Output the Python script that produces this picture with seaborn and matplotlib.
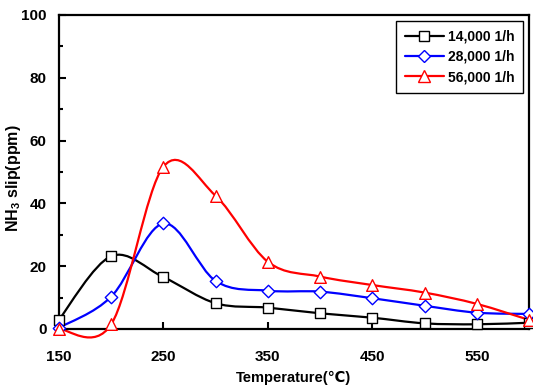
import matplotlib
matplotlib.use("Agg")
import numpy as np
import pandas as pd
import seaborn as sns
import matplotlib.pyplot as plt
from matplotlib.path import Path
from matplotlib.patches import PathPatch
from matplotlib.lines import Line2D
from matplotlib.ticker import MultipleLocator

# ---- data ----
temperature = [150, 200, 250, 300, 350, 400, 450, 500, 550, 600]
slip_14000 = [3.0, 23.2, 16.5, 8.2, 6.8, 5.0, 3.6, 1.8, 1.5, 2.0]
slip_28000 = [0.4, 10.3, 33.6, 15.3, 12.2, 11.9, 9.8, 7.4, 5.2, 4.8]
slip_56000 = [0.0, 1.5, 51.7, 42.4, 21.4, 16.7, 14.0, 11.6, 8.0, 2.9]
series_labels = ["14,000 1/h", "28,000 1/h", "56,000 1/h"]
series_colors = ["#000000", "#0000FF", "#FF0000"]
series_markers = ["s", "D", "^"]
x_ticks = [150, 250, 350, 450, 550]
y_ticks = [0, 20, 40, 60, 80, 100]

sns.set_theme(style="white")
plt.rcParams["font.family"] = ["Liberation Sans", "DejaVu Sans"]
plt.rcParams["font.weight"] = "bold"
plt.rcParams["text.color"] = "black"
plt.rcParams["axes.labelcolor"] = "black"
plt.rcParams["xtick.color"] = "black"
plt.rcParams["ytick.color"] = "black"
plt.rcParams["mathtext.fontset"] = "custom"
plt.rcParams["mathtext.rm"] = "Liberation Sans:bold"
plt.rcParams["mathtext.bf"] = "Liberation Sans:bold"
plt.rcParams["mathtext.default"] = "bf"

fig = plt.figure(figsize=(5.33, 3.86), dpi=100)
ax = fig.add_axes([59 / 533, (386 - 329) / 386, 470 / 533, 314 / 386])

df = pd.DataFrame({
    "Temperature": temperature * 3,
    "slip": slip_14000 + slip_28000 + slip_56000,
    "series": sum([[s] * len(temperature) for s in series_labels], []),
})


def smooth_path(xs, ys):
    """Excel-like smoothed line: cubic Bezier segments (Catmull-Rom control points)."""
    pts = np.column_stack([xs, ys]).astype(float)
    n = len(pts)
    verts = [pts[0]]
    codes = [Path.MOVETO]
    for i in range(n - 1):
        p0 = pts[i - 1] if i > 0 else pts[i]
        p1 = pts[i]
        p2 = pts[i + 1]
        p3 = pts[i + 2] if i + 2 < n else pts[i + 1]
        c1 = p1 + (p2 - p0) / 6.0
        c2 = p2 - (p3 - p1) / 6.0
        verts += [c1, c2, p2]
        codes += [Path.CURVE4] * 3
    return Path(verts, codes)


sizes = {"s": 56, "D": 40, "^": 70}
handles = []
for lab, col, mk in zip(series_labels, series_colors, series_markers):
    sub = df[df["series"] == lab]
    patch = PathPatch(smooth_path(sub["Temperature"].values, sub["slip"].values),
                      facecolor="none", edgecolor=col, lw=1.6, zorder=2, clip_on=False)
    ax.add_patch(patch)
    sns.scatterplot(data=sub, x="Temperature", y="slip", marker=mk, s=sizes[mk],
                    color="white", edgecolor=col, linewidth=1.0, zorder=3,
                    clip_on=False, legend=False, ax=ax)
    handles.append(Line2D([0], [0], color=col, lw=1.6, marker=mk,
                          markersize=np.sqrt(sizes[mk]), markerfacecolor="white",
                          markeredgecolor=col, markeredgewidth=1.0))

ax.set_xlim(150, 600)
ax.set_ylim(0, 100)
ax.set_xticks(x_ticks)
ax.set_yticks(y_ticks)
ax.yaxis.set_minor_locator(MultipleLocator(10))
ax.tick_params(axis="both", which="major", direction="in", length=5, width=1.5,
               labelsize=11, left=True, bottom=True, colors="black")
ax.tick_params(axis="x", which="major", pad=15)
ax.tick_params(axis="y", which="major", pad=9)
ax.tick_params(axis="y", which="minor", direction="in", length=3, width=1.5, left=True)
for lbl in ax.get_xticklabels() + ax.get_yticklabels():
    lbl.set_fontweight("bold")
    lbl.set_color("black")

for sp in ax.spines.values():
    sp.set_color("black")
    sp.set_linewidth(1.6)

ax.set_xlabel("Temperature(\u2103)", fontsize=10.5, fontweight="bold", color="black")
ax.set_ylabel("NH$_3$ slip(ppm)", fontsize=11.5, fontweight="bold", color="black")
ax.xaxis.set_label_coords(0.5, -(371 - 329) / 314)
ax.yaxis.set_label_coords((23 - 59) / 470, 0.48)

leg = ax.legend(handles, series_labels, loc="upper right", fontsize=10,
                frameon=True, fancybox=False, edgecolor="black", framealpha=1,
                handlelength=2.8, handletextpad=0.3, borderpad=0.65,
                labelspacing=0.45, borderaxespad=0.4)
leg.get_frame().set_linewidth(1.0)
for t in leg.get_texts():
    t.set_fontweight("bold")
    t.set_color("black")

fig.savefig("out.png", dpi=100)
